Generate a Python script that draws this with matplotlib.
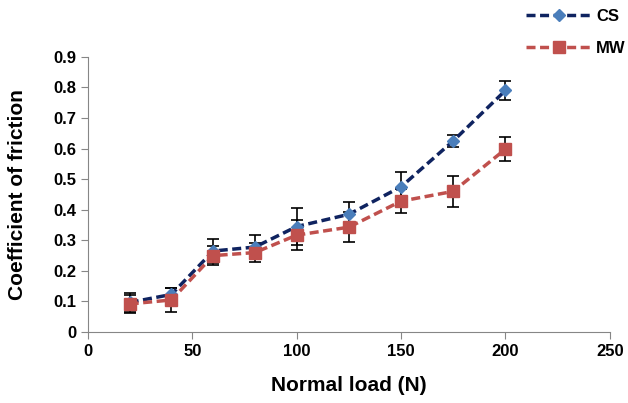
import numpy as np
import matplotlib.pyplot as plt

plt.rcParams['font.family'] = ['Liberation Sans', 'DejaVu Sans']

# Normal load (N)
load = [20, 40, 60, 80, 100, 125, 150, 175, 200]

# Coefficient of friction
cs = [0.097, 0.123, 0.265, 0.278, 0.345, 0.385, 0.475, 0.625, 0.790]
cs_err = [0.03, 0.02, 0.04, 0.04, 0.06, 0.04, 0.048, 0.02, 0.03]
mw = [0.092, 0.105, 0.250, 0.260, 0.317, 0.343, 0.428, 0.460, 0.598]
mw_err = [0.03, 0.04, 0.03, 0.03, 0.05, 0.05, 0.04, 0.05, 0.04]

fig = plt.figure(figsize=(6.28, 4.03), dpi=100)
ax = fig.add_axes([0.140, 0.176, 0.831, 0.683])

ax.errorbar(load, cs, yerr=cs_err, fmt='none', ecolor='black', elinewidth=1.2,
            capsize=4, capthick=1.2, zorder=2)
ax.errorbar(load, mw, yerr=mw_err, fmt='none', ecolor='black', elinewidth=1.2,
            capsize=4, capthick=1.2, zorder=2)
ax.plot(load, cs, '--', color='#0f2360', lw=2.5, dashes=(2.6, 1.3),
        marker='D', ms=6, mfc='#4a7ebb', mec='#4a7ebb', label='CS', zorder=3)
ax.plot(load, mw, '--', color='#c0504d', lw=2.5, dashes=(2.6, 1.3),
        marker='s', ms=8, mfc='#c0504d', mec='#c0504d', label='MW', zorder=3)

ax.set_xlim(0, 250)
ax.set_ylim(0, 0.9)
ax.set_xticks(np.arange(0, 251, 50))
ax.set_yticks(np.arange(0, 0.91, 0.1))
ax.set_yticklabels(['0'] + ['%.1f' % v for v in np.arange(0.1, 0.91, 0.1)])

for s in ['top', 'right']:
    ax.spines[s].set_visible(False)
for s in ['left', 'bottom']:
    ax.spines[s].set_color('#868686')
ax.tick_params(colors='#868686', labelcolor='black', length=5, labelsize=12)
for lab in ax.get_xticklabels() + ax.get_yticklabels():
    lab.set_fontweight('bold')

ax.set_xlabel('Normal load (N)', fontsize=15, fontweight='bold', labelpad=12)
ax.set_ylabel('Coefficient of friction', fontsize=15, fontweight='bold', labelpad=19)

leg = fig.legend(loc='upper right', bbox_to_anchor=(1.018, 1.01), frameon=False,
                 prop={'weight': 'bold', 'size': 12}, handlelength=3.9,
                 handletextpad=0.3, labelspacing=1.0, borderpad=0.3)

fig.savefig('out.png', dpi=100)
